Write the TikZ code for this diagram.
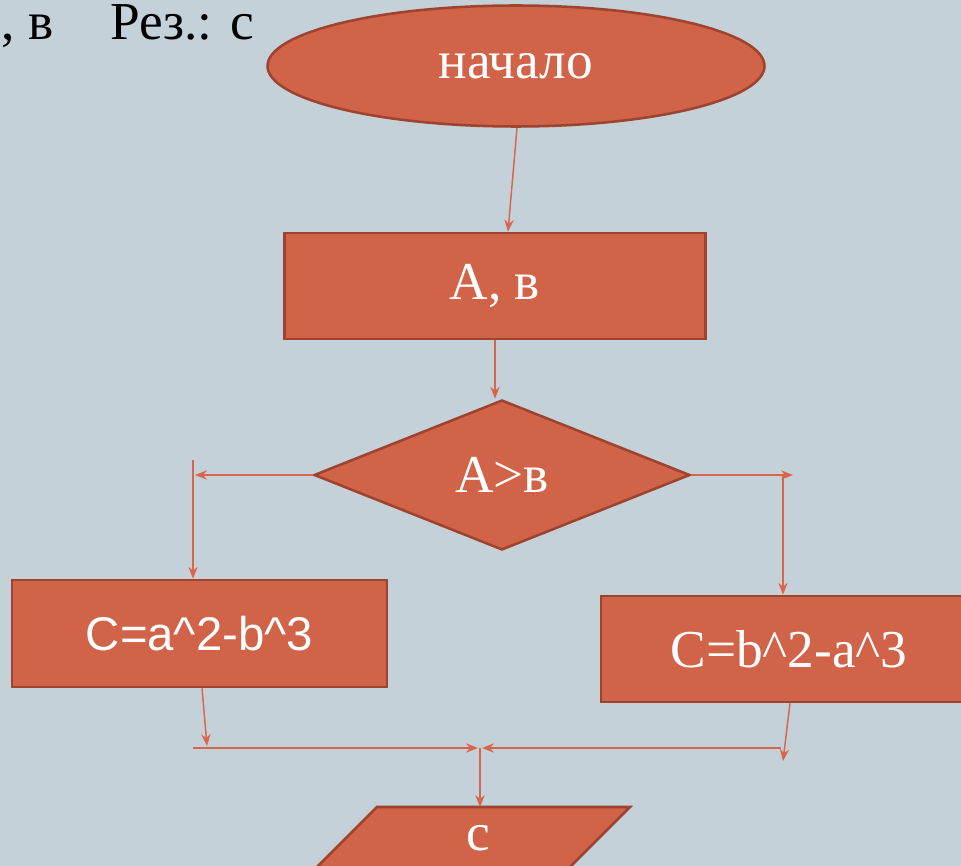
\documentclass[tikz,border=0pt]{standalone}
\usepackage{fontspec}
\setmainfont{Liberation Serif}
\newfontfamily\blocksans{Liberation Sans}
\usetikzlibrary{shapes.geometric}
\usetikzlibrary{arrows.meta}

\definecolor{bgcol}{HTML}{C5D1D8}
\definecolor{blockfill}{HTML}{D16349}
\definecolor{blockline}{HTML}{9E432E}
\definecolor{linecol}{HTML}{D9664C}

\tikzset{
	block/.style={fill=blockfill, draw=blockline, line width=1.9pt, text=white, inner sep=0pt, font=\fontsize{40}{46}\selectfont},
	flow/.style={draw=linecol, line width=1.1pt, -{Stealth[length=9pt, width=7pt, inset=3pt]}},
}

\begin{document}
\begin{tikzpicture}[x=0.75pt, y=-0.75pt]
	\fill[bgcol] (0,0) rectangle (961,866);
	\begin{scope}
	\clip (0,0) rectangle (961,866);

	\node[anchor=base east, inner sep=0pt, font=\fontsize{40}{46}\selectfont] (given) at (54,40) {, в};
	\node[anchor=base west, inner sep=0pt, font=\fontsize{40}{46}\selectfont] (result) at (110,40) {Рез.: с};

	\node[block, ellipse, minimum width=372.75pt, minimum height=90.75pt] (start) at (516,66) {\raisebox{-4pt}{начало}};
	\node[block, rectangle, minimum width=315.75pt, minimum height=79.5pt] (inbox) at (495,286) {А, в};
	\node[block, diamond, minimum width=282pt, minimum height=112.5pt] (cond) at (502,475) {А>в};
	\node[block, rectangle, minimum width=281.25pt, minimum height=80.25pt, font=\blocksans\fontsize{35.5}{40}\selectfont] (leftbox) at (199.5,633.5) {C=a\textasciicircum2-b\textasciicircum3};
	\node[block, rectangle, minimum width=282pt, minimum height=79.5pt] (rightbox) at (789,649) {C=b\textasciicircum2-a\textasciicircum3};

	% output block, cut by the lower edge
	\draw[block] (377,807) -- (630,807) -- (530,907) -- (277,907) -- cycle;
	\coordinate (outtop) at (503,807);
	\node[text=white, inner sep=0pt, font=\fontsize{40}{46}\selectfont] (outtext) at (478,838) {с};

	\coordinate (lturn) at (195,475);
	\coordinate (ltop) at (193,460);
	\coordinate (rturn) at (793,475);
	\coordinate (rdrop) at (783,475);
	\coordinate (lend) at (207,746);
	\coordinate (rend) at (783,761);
	\coordinate (lmerge) at (193,748);
	\coordinate (rmerge) at (781,748);
	\coordinate (merge) at (480,748);

	\draw[flow] ([xshift=0.75pt]start.south) -- ([xshift=9.75pt]inbox.north);
	\draw[flow] (inbox.south) -- (inbox.south |- cond.north);
	\draw[flow] (cond.west) -- (lturn);
	\draw[flow] (ltop) -- (ltop |- leftbox.north);
	\draw[flow] (cond.east) -- (rturn);
	\draw[flow] (rdrop) -- (rdrop |- rightbox.north);
	\draw[flow] ([xshift=1.9pt]leftbox.south) -- (lend);
	\draw[flow] ([xshift=0.75pt]rightbox.south) -- (rend);
	\draw[flow] (lmerge) -- ([xshift=-1.5pt]merge);
	\draw[flow] (rmerge) -- ([xshift=1.5pt]merge);
	\draw[flow] (merge) -- (merge |- outtop);
	\end{scope}
	\pgfresetboundingbox
	\useasboundingbox (0,0) rectangle (961,866);
\end{tikzpicture}
\end{document}
